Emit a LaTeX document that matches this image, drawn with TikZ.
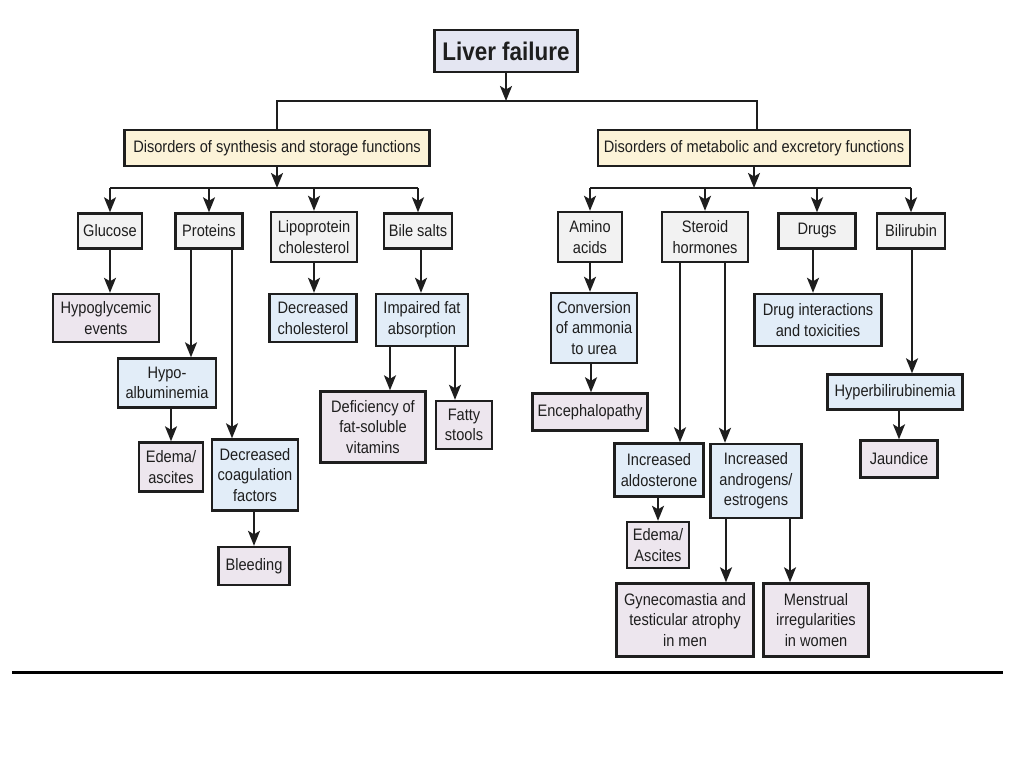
\documentclass[tikz,border=0pt]{standalone}
\usepackage{fontspec}
\setmainfont{Liberation Sans}[FakeStretch=0.88]
\usetikzlibrary{arrows.meta}
\definecolor{lavfill}{HTML}{E4E6F2}
\definecolor{creamfill}{HTML}{FCF3D8}
\definecolor{grayfill}{HTML}{F2F2F2}
\definecolor{bluefill}{HTML}{E2EDF8}
\definecolor{pinkfill}{HTML}{EDE6EE}
\definecolor{ink}{HTML}{1E1E1E}
\tikzset{
  box/.style={draw=ink, line width=2.4pt, align=center, inner sep=0pt, text=ink,
    font=\fontsize{16.6}{20.7}\selectfont},
  lavbox/.style={box, fill=lavfill},
  creambox/.style={box, fill=creamfill},
  graybox/.style={box, fill=grayfill},
  bluebox/.style={box, fill=bluefill},
  pinkbox/.style={box, fill=pinkfill},
  arr/.style={draw=ink, line width=2pt, -{Stealth[length=15pt,width=12pt,inset=3.5pt]}},
  plain/.style={draw=ink, line width=2pt},
  sz/.style 2 args={minimum width=#1pt, minimum height=#2pt}
}
\begin{document}
\begin{tikzpicture}[x=1pt,y=-1pt]
\useasboundingbox (0,0) rectangle (1024,768);
% top
\node[lavbox, sz={143}{42}, font=\fontsize{25.5}{28}\selectfont\bfseries] (liver) at (506,51) {Liver failure};
\node[creambox, sz={305}{36}] (synth) at (277,148) {Disorders of synthesis and storage functions};
\node[creambox, sz={312}{36}] (meta) at (754,148) {Disorders of metabolic and excretory functions};
% level 2
\node[graybox, sz={64}{35}] (glucose) at (110,231) {Glucose};
\node[graybox, sz={67}{35}] (proteins) at (209,231) {Proteins};
\node[graybox, sz={86}{50}] (lipo) at (314,237) {Lipoprotein\\cholesterol};
\node[graybox, sz={68}{35}] (bile) at (418,231) {Bile salts};
\node[graybox, sz={64}{50}] (amino) at (590,237) {Amino\\acids};
\node[graybox, sz={86}{50}] (steroid) at (705,237) {Steroid\\hormones};
\node[graybox, sz={77}{35}] (drugs) at (817,231) {Drugs};
\node[graybox, sz={68}{35}] (bilirubin) at (911,231) {Bilirubin};
% level 3 left
\node[pinkbox, sz={106}{48}] (hypogly) at (106,318) {Hypoglycemic\\events};
\node[bluebox, sz={98}{49}] (hypoalb) at (167,383) {Hypo-\\albuminemia};
\node[pinkbox, sz={64}{49}] (edema1) at (171,467) {Edema/\\ascites};
\node[bluebox, sz={86}{71}] (coag) at (255,475) {Decreased\\coagulation\\factors};
\node[pinkbox, sz={71}{38}] (bleed) at (254,566) {Bleeding};
\node[bluebox, sz={87}{48}] (deccho) at (313,318) {Decreased\\cholesterol};
\node[bluebox, sz={92}{52}] (impfat) at (422,320) {Impaired fat\\absorption};
\node[pinkbox, sz={105}{71}] (defic) at (373,427) {Deficiency of\\fat-soluble\\vitamins};
\node[pinkbox, sz={56}{48}] (fatty) at (464,425) {Fatty\\stools};
% level 3 right
\node[bluebox, sz={86}{70}] (conv) at (594,328) {Conversion\\of ammonia\\to urea};
\node[pinkbox, sz={115}{37}] (enceph) at (590,412) {Encephalopathy};
\node[bluebox, sz={89}{53}] (aldo) at (659,470) {Increased\\aldosterone};
\node[bluebox, sz={91}{74}] (andro) at (756,481) {Increased\\androgens/\\estrogens};
\node[pinkbox, sz={62}{46}] (edema2) at (658,545) {Edema/\\Ascites};
\node[pinkbox, sz={137}{73}] (gyne) at (685,620) {Gynecomastia and\\testicular atrophy\\in men};
\node[pinkbox, sz={105}{73}] (menst) at (816,620) {Menstrual\\irregularities\\in women};
\node[bluebox, sz={127}{52}] (druginter) at (818,320) {Drug interactions\\and toxicities};
\node[bluebox, sz={135}{35}] (hyperbili) at (895,392) {Hyperbilirubinemia};
\node[pinkbox, sz={77}{37}] (jaund) at (899,459) {Jaundice};
% top connectors
\coordinate (bus0) at (506,101);
\draw[arr] (liver.south) -- (bus0);
\draw[plain] (synth.north) -- (synth.north |- bus0) -- (757,0 |- bus0) -- (757,0 |- meta.north);
% left bus
\coordinate (bus1) at (277,188);
\draw[arr] (synth.south) -- (bus1);
\draw[plain] (glucose.north |- bus1) -- (bile.north |- bus1);
\foreach \n in {glucose,proteins,lipo,bile} \draw[arr] (\n.north |- bus1) -- (\n.north);
% right bus
\coordinate (bus2) at (754,188);
\draw[arr] (meta.south) -- (bus2);
\draw[plain] (amino.north |- bus2) -- (bilirubin.north |- bus2);
\foreach \n in {amino,steroid,drugs,bilirubin} \draw[arr] (\n.north |- bus2) -- (\n.north);
% left tree arrows
\draw[arr] (glucose.south) -- (glucose.south |- hypogly.north);
\draw[arr] (proteins.south -| 191,0) -- (hypoalb.north -| 191,0);
\draw[arr] (proteins.south -| 232,0) -- (coag.north -| 232,0);
\draw[arr] (edema1.north |- hypoalb.south) -- (edema1.north);
\draw[arr] (bleed.north |- coag.south) -- (bleed.north);
\draw[arr] (lipo.south) -- (lipo.south |- deccho.north);
\draw[arr] (bile.south -| 421,0) -- (impfat.north -| 421,0);
\draw[arr] (impfat.south -| 390,0) -- (defic.north -| 390,0);
\draw[arr] (impfat.south -| 455,0) -- (fatty.north -| 455,0);
% right tree arrows
\draw[arr] (amino.south) -- (amino.south |- conv.north);
\draw[arr] (conv.south -| 591,0) -- (enceph.north -| 591,0);
\draw[arr] (steroid.south -| 680,0) -- (aldo.north -| 680,0);
\draw[arr] (steroid.south -| 725,0) -- (andro.north -| 725,0);
\draw[arr] (edema2.north |- aldo.south) -- (edema2.north);
\draw[arr] (andro.south -| 726,0) -- (gyne.north -| 726,0);
\draw[arr] (andro.south -| 790,0) -- (menst.north -| 790,0);
\draw[arr] (drugs.south -| 813,0) -- (druginter.north -| 813,0);
\draw[arr] (bilirubin.south -| 912,0) -- (hyperbili.north -| 912,0);
\draw[arr] (jaund.north |- hyperbili.south) -- (jaund.north);
% bottom rule
\draw[line width=3.5pt, black] (12,672.5) -- (1003,672.5);
\end{tikzpicture}
\end{document}
